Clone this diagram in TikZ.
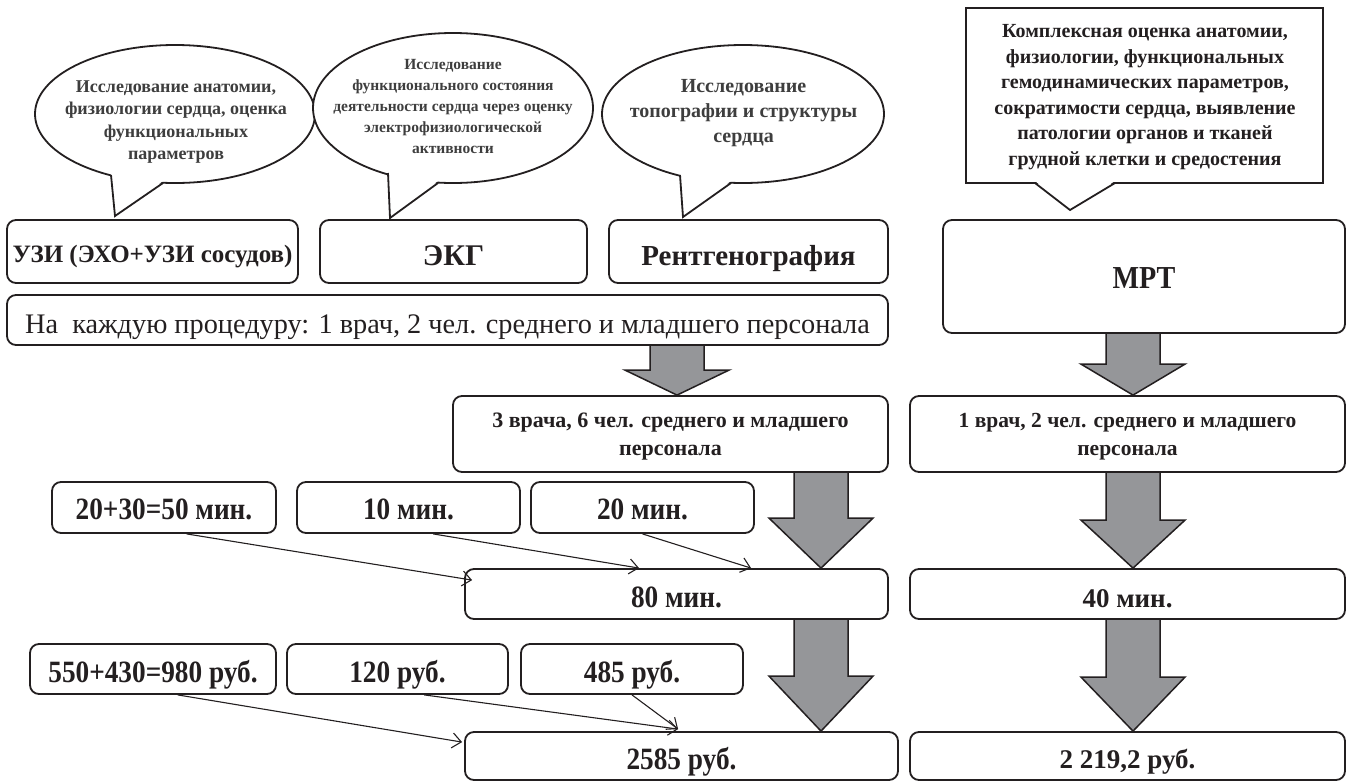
\documentclass[tikz,border=0pt]{standalone}
\usepackage{fontspec}
\setmainfont{Liberation Serif}
\newfontfamily\condserif[FakeStretch=0.88]{Liberation Serif}
\usetikzlibrary{shapes.geometric,arrows.meta,calc}
\definecolor{ink}{RGB}{35,31,32}
\definecolor{callink}{RGB}{62,62,62}
\definecolor{arrowgray}{RGB}{149,150,153}
\pgfdeclarelayer{bg}
\pgfsetlayers{bg,main}
\newcommand\bigarrow[4]{% #1 from node, #2 to node, #3 x centre, #4 head length
  \begin{pgfonlayer}{bg}
  \draw[bigarr] let \p1=(#1.south), \p2=(#2.north) in
    (#3-27,\y1) -- (#3-27,\y2+#4) -- (#3-52,\y2+#4) -- (#3,\y2) -- (#3+52,\y2+#4) -- (#3+27,\y2+#4) -- (#3+27,\y1);
  \end{pgfonlayer}}
\begin{document}
\begin{tikzpicture}[x=1pt,y=-1pt,
  box/.style={draw=ink,line width=1.8pt,rounded corners=9pt,fill=white,inner sep=0pt,text=ink,font=\bfseries,align=center},
  tb/.style={text height=#1,text depth=0pt},
  numbox/.style={box,font=\condserif\bfseries\fontsize{31}{34}\selectfont},
  plainnum/.style={box,font=\bfseries\fontsize{27}{32}\selectfont},
  bubble/.style={draw=ink,line width=1.8pt,fill=white,ellipse,inner sep=0pt},
  calltxt/.style={text=callink,font=\bfseries,align=center,inner sep=0pt},
  bigarr/.style={draw=ink,line width=1.5pt,fill=arrowgray,line join=miter},
  thinarr/.style={draw=ink,line width=1.1pt,-{Straight Barb[length=9pt,width=15pt,line width=1.1pt]}}]
\useasboundingbox (0,0) rectangle (1349,782);

% ---- callouts ----
\node[bubble,minimum width=280,minimum height=138] (e1) at (175,114) {};
\fill[white] (111,173) -- (115,216) -- (163,181) -- cycle;
\draw[ink,line width=1.8pt,line join=miter] (111,175) -- (115,216) -- (163,183);
\node[calltxt,font=\bfseries\fontsize{18}{22.5}\selectfont] (e1t) at (176,122)
  {Исследование анатомии,\\физиологии сердца, оценка\\функциональных\\параметров};

\node[bubble,minimum width=280,minimum height=150] (e2) at (453,108) {};
\fill[white] (388,171) -- (390,218) -- (438,181) -- cycle;
\draw[ink,line width=1.8pt,line join=miter] (388,173) -- (390,218) -- (438,183);
\node[calltxt,font=\bfseries\fontsize{15.5}{21}\selectfont] (e2t) at (453,106)
  {Исследование\\функционального состояния\\деятельности сердца через оценку\\электрофизиологической\\активности};

\node[bubble,minimum width=282,minimum height=138] (e3) at (743,114) {};
\fill[white] (680,173) -- (683,217) -- (731,181) -- cycle;
\draw[ink,line width=1.8pt,line join=miter] (680,175) -- (683,217) -- (731,183);
\node[calltxt,font=\bfseries\fontsize{20}{25}\selectfont] (e3t) at (743.5,113)
  {Исследование\\топографии и структуры\\сердца};

\node[draw=ink,line width=1.8pt,fill=white,minimum width=357,minimum height=175,inner sep=0pt] (r4) at (1144.5,95.5) {};
\fill[white] (1035,181) -- (1070,210) -- (1115,181) -- cycle;
\draw[ink,line width=1.8pt,line join=miter] (1035,183) -- (1070,210) -- (1115,183);
\node[calltxt,text=ink,font=\bfseries\fontsize{20}{25.5}\selectfont] (r4t) at (1145,97)
  {Комплексная оценка анатомии,\\физиологии, функциональных\\гемодинамических параметров,\\сократимости сердца, выявление\\патологии органов и тканей\\грудной клетки и средостения};

% ---- method boxes ----
\node[box,tb=21pt,minimum width=291,minimum height=63,font=\bfseries\fontsize{25}{30}\selectfont] (uzi) at (152.5,251.5) {УЗИ (ЭХО+УЗИ сосудов)};
\node[box,tb=27pt,minimum width=267,minimum height=63,font=\bfseries\fontsize{30}{34}\selectfont] (ekg) at (453.5,251.5) {ЭКГ};
\node[box,tb=27pt,minimum width=279,minimum height=63,font=\bfseries\fontsize{29}{34}\selectfont] (rtg) at (748.5,251.5) {Рентгенография};
\node[box,tb=23pt,minimum width=402,minimum height=113,font=\condserif\bfseries\fontsize{32}{36}\selectfont] (mrt) at (1144,276.5) {МРТ};

\node[box,tb=26pt,minimum width=881,minimum height=50,font=\fontsize{28.3}{34}\selectfont] (each) at (447.5,320)
  {На\ \ каждую процедуру: 1 врач, 2 чел. среднего и младшего персонала};

\node[box,text depth=0pt,minimum width=435,minimum height=76,font=\bfseries\fontsize{22}{28}\selectfont] (doc3) at (670.5,434)
  {3 врача, 6 чел. среднего и младшего\\персонала};
\node[box,text depth=0pt,minimum width=435,minimum height=76,font=\bfseries\fontsize{21.5}{28}\selectfont] (doc1) at (1127.5,434)
  {1 врач, 2 чел. среднего и младшего\\персонала};

\node[numbox,tb=23pt,minimum width=224,minimum height=51] (t1) at (164,507.5) {20+30=50 мин.};
\node[numbox,tb=23pt,minimum width=223,minimum height=51] (t2) at (408.5,507.5) {10 мин.};
\node[numbox,tb=23pt,minimum width=223,minimum height=51] (t3) at (642.5,507.5) {20 мин.};

\node[numbox,tb=26pt,minimum width=423,minimum height=50] (m80) at (676.5,594) {80 мин.};
\node[plainnum,tb=26pt,minimum width=435,minimum height=50] (m40) at (1127.5,594) {40 мин.};

\node[numbox,tb=26pt,minimum width=246,minimum height=50] (c1) at (153,669) {550+430=980 руб.};
\node[numbox,tb=26pt,minimum width=221,minimum height=50] (c2) at (397.5,669) {120 руб.};
\node[numbox,tb=26pt,minimum width=222,minimum height=50] (c3) at (632,669) {485 руб.};

\node[numbox,tb=27pt,minimum width=433,minimum height=48] (r2585) at (681.5,756) {2585 руб.};
\node[plainnum,tb=25pt,minimum width=435,minimum height=48] (r2219) at (1127.5,756) {2 219,2 руб.};

% ---- big arrows ----
\bigarrow{each}{doc3}{677}{25}
\bigarrow{doc3}{m80}{821}{50}
\bigarrow{m80}{r2585}{821}{55}
\bigarrow{mrt}{doc1}{1133}{31}
\bigarrow{doc1}{m40}{1133}{48}
\bigarrow{m40}{r2219}{1133}{54}

% ---- thin arrows ----
\draw[thinarr] ($(t1.south west)!0.6!(t1.south east)$) -- ($(m80.north west)+(8,12)$);
\draw[thinarr] ($(t2.south west)!0.61!(t2.south east)$) -- ($(m80.north west)+(175,0)$);
\draw[thinarr] (t3.south) -- ($(m80.north west)+(287,0)$);
\draw[thinarr] ($(c1.south west)!0.6!(c1.south east)$) -- ($(r2585.north west)+(-2,11)$);
\draw[thinarr] ($(c2.south west)!0.62!(c2.south east)$) -- ($(r2585.north west)+(214,-2)$);
\draw[thinarr] (c3.south) -- ($(r2585.north west)+(214,-2)$);
\end{tikzpicture}
\end{document}
